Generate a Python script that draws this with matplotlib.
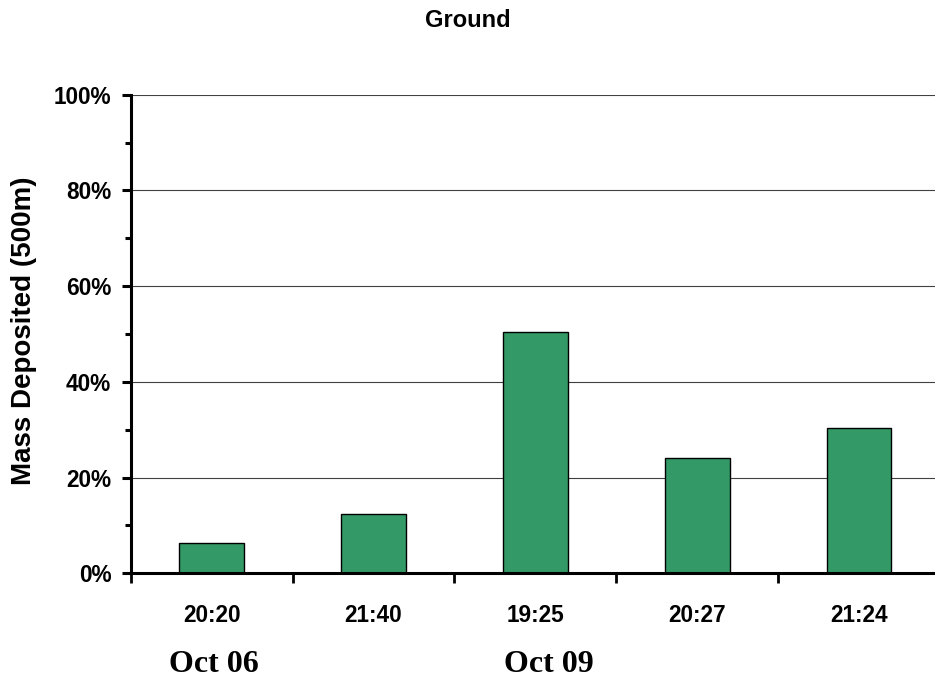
import matplotlib
matplotlib.use("Agg")
import matplotlib.pyplot as plt
from matplotlib.ticker import FixedLocator, PercentFormatter, MultipleLocator

times = ['20:20', '21:40', '19:25', '20:27', '21:24']
values = [6.4, 12.4, 50.4, 24.0, 30.4]
dates = ['Oct 06', 'Oct 09']

plt.rcParams['font.family'] = ['Liberation Sans', 'DejaVu Sans']

fig = plt.figure(figsize=(9.35, 6.77), dpi=100)
ax = fig.add_axes([130.7/935, 103.7/677, (940-130.7)/935, (573.3-94.7)/677])

x = list(range(len(times)))
ax.bar(x, values, width=0.4, color='#339966', edgecolor='black', linewidth=1.0, zorder=3)

ax.set_xlim(-0.5, len(times) - 0.5)
ax.set_ylim(0, 100)
ax.yaxis.set_major_locator(MultipleLocator(20))
ax.yaxis.set_minor_locator(MultipleLocator(10))
ax.yaxis.set_major_formatter(PercentFormatter(decimals=0))
ax.grid(axis='y', which='major', color='#404040', linewidth=0.8, zorder=0)

ax.set_xticks(x)
ax.set_xticklabels(times)
ax.xaxis.set_minor_locator(FixedLocator([i - 0.5 for i in range(len(times) + 1)]))
ax.tick_params(axis='x', which='major', length=0, pad=22)
ax.tick_params(axis='x', which='minor', length=7, width=2, direction='out', color='black')
ax.tick_params(axis='y', which='major', length=6.5, width=2.2, pad=7.5, direction='out')
ax.tick_params(axis='y', which='minor', length=4, width=2.2, direction='out')

for lab in ax.get_xticklabels() + ax.get_yticklabels():
    lab.set_fontsize(16.3)
    lab.set_fontweight('bold')

for s in ['top', 'right']:
    ax.spines[s].set_visible(False)
for s in ['left', 'bottom']:
    ax.spines[s].set_linewidth(2.2)
    ax.spines[s].set_zorder(4)

fig.text(24/935, 1 - 331/677, 'Mass Deposited (500m)', rotation=90, ha='center', va='center',
         fontsize=20, fontweight='bold')

fig.text(468/935, 1 - 20.5/677, 'Ground', ha='center', va='center', fontsize=17, fontweight='bold')

for d, xp in zip(dates, [214, 549]):
    fig.text(xp / 935, 1 - 671.7/677, d, ha='center', va='baseline',
             fontsize=23, fontweight='bold', family=['Liberation Serif', 'DejaVu Serif'])

fig.savefig('out.png', dpi=100)
